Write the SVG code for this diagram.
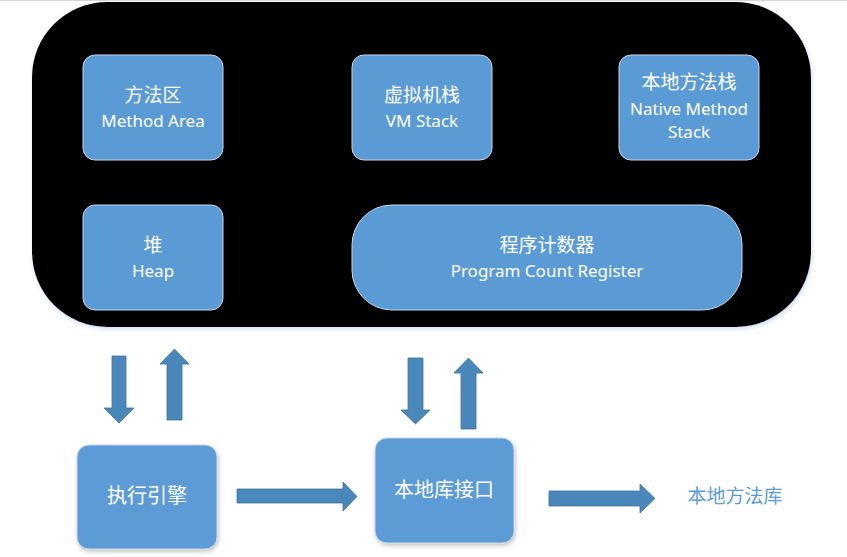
<svg xmlns="http://www.w3.org/2000/svg" width="847" height="557" viewBox="0 0 847 557">
  <defs>
    <style>
      .box { fill: #5b9bd5; stroke: #c9d6e6; stroke-width: 1; }
      .t { font-family: "Noto Sans", "Noto Sans CJK SC", sans-serif; fill: #ffffff; text-anchor: middle; }
      .cn { font-size: 19px; }
      .en { font-size: 17px; }
      .big { font-size: 20px; }
      .arrow { fill: #4a87bb; stroke: #41719c; stroke-width: 0.8; }
    </style>
    <filter id="sh" x="-10%" y="-10%" width="130%" height="130%">
      <feDropShadow dx="1" dy="2" stdDeviation="2" flood-color="#000000" flood-opacity="0.25"/>
    </filter>
    <filter id="glow" x="-5%" y="-5%" width="110%" height="115%">
      <feDropShadow dx="1" dy="2" stdDeviation="2" flood-color="#9dbbe0" flood-opacity="0.5"/>
    </filter>
  </defs>
  <rect width="847" height="557" fill="#ffffff"/>
  <line x1="0" y1="0.5" x2="847" y2="0.5" stroke="#d6d6d6" stroke-width="1"/>

  <g id="jvm-runtime">
    <rect x="32" y="2" width="779" height="325" rx="75" ry="75" fill="#000000" filter="url(#glow)"/>
  </g>

  <g id="method-area">
    <rect class="box" x="83" y="55" width="140" height="105" rx="12" ry="12"/>
    <text class="t cn" x="153" y="102">方法区</text>
    <text class="t en" x="153" y="127">Method Area</text>
  </g>

  <g id="vm-stack">
    <rect class="box" x="352" y="55" width="140" height="105" rx="12" ry="12"/>
    <text class="t cn" x="422" y="102">虚拟机栈</text>
    <text class="t en" x="422" y="127">VM Stack</text>
  </g>

  <g id="native-method-stack">
    <rect class="box" x="619" y="55" width="140" height="105" rx="12" ry="12"/>
    <text class="t cn" x="689" y="89">本地方法栈</text>
    <text class="t en" x="689" y="115">Native Method</text>
    <text class="t en" x="689" y="138">Stack</text>
  </g>

  <g id="heap">
    <rect class="box" x="83" y="205" width="140" height="105" rx="12" ry="12"/>
    <text class="t cn" x="153" y="252">堆</text>
    <text class="t en" x="153" y="277">Heap</text>
  </g>

  <g id="program-counter">
    <rect class="box" x="352" y="205" width="390" height="105" rx="40" ry="40"/>
    <text class="t cn" x="547" y="252">程序计数器</text>
    <text class="t en" x="547" y="277">Program Count Register</text>
  </g>

  <g id="execution-engine">
    <rect class="box" x="77" y="445" width="140" height="104" rx="12" ry="12" filter="url(#sh)"/>
    <text class="t big" x="147" y="503">执行引擎</text>
  </g>

  <g id="native-interface">
    <rect class="box" x="375" y="438" width="139" height="105" rx="12" ry="12" filter="url(#sh)"/>
    <text class="t big" x="444" y="497">本地库接口</text>
  </g>

  <g id="native-library">
    <text x="735" y="503" font-family="Noto Sans CJK SC, sans-serif" font-size="19" fill="#5b9bd5" text-anchor="middle">本地方法库</text>
  </g>

  <g id="connectors">
    <polygon class="arrow" points="112,356 126,356 126,408 134,408 119,423 104,408 112,408"/>
    <polygon class="arrow" points="167,420 182,420 182,364 189,364 174.5,349 160,364 167,364"/>
    <polygon class="arrow" points="408,358 423,358 423,410 430,410 415.5,424 401,410 408,410"/>
    <polygon class="arrow" points="461,429 476,429 476,373 483,373 468.5,358 454,373 461,373"/>
    <polygon class="arrow" points="237,489 343,489 343,482 357,496.5 343,511 343,503 237,503"/>
    <polygon class="arrow" points="549,491 640,491 640,484 655,498.5 640,513 640,506 549,506"/>
  </g>
</svg>
